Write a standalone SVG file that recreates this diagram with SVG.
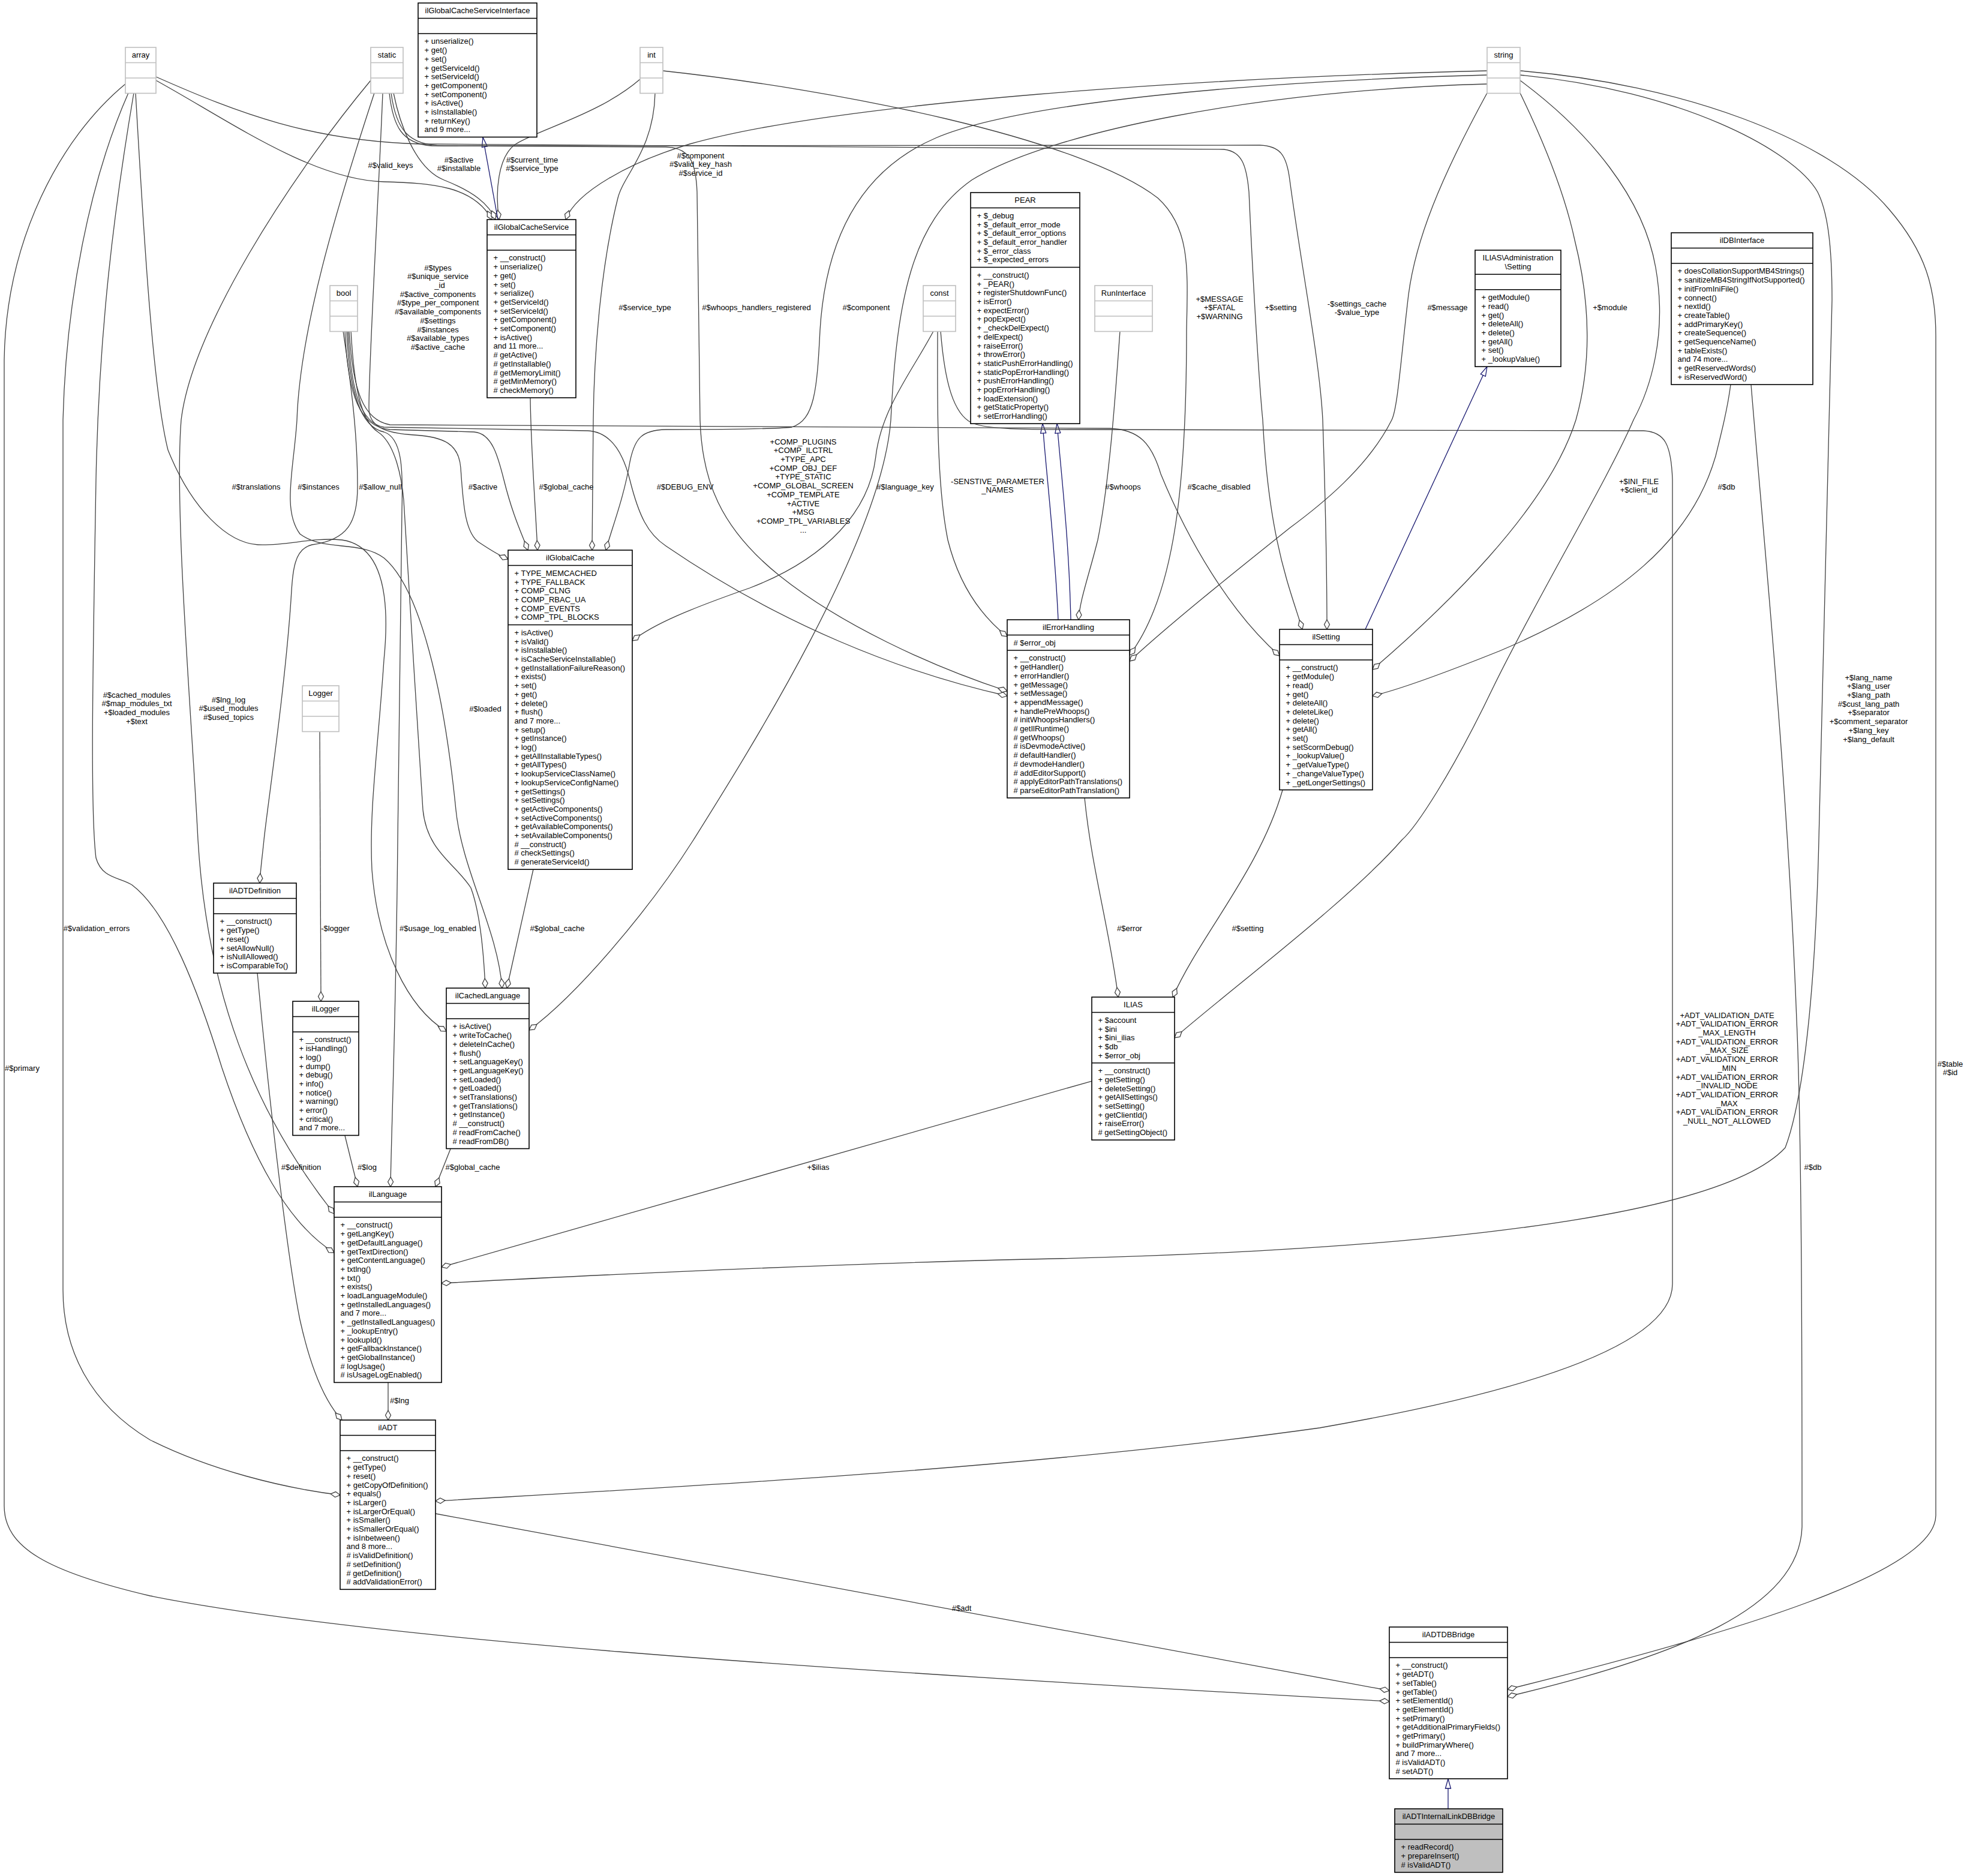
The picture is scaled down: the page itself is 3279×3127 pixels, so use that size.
<svg xmlns="http://www.w3.org/2000/svg" width="3279" height="3127" viewBox="0 0 3279 3127">
<style>
text{font-family:"Liberation Sans",Arial,Helvetica,sans-serif;font-size:13px;fill:#000}
.c{text-anchor:middle}
.n rect{fill:#fff;stroke:#000;stroke-width:1.6}
.n path{fill:none;stroke:#000;stroke-width:1.6}
.g rect{fill:#bfbfbf}
.t rect{fill:#fff;stroke:#bfbfbf;stroke-width:1.6}
.t path{fill:none;stroke:#bfbfbf;stroke-width:1.6}
.e path{fill:none;stroke:#404040;stroke-width:1.3;marker-end:url(#dia)}
.i path{fill:none;stroke:#191970;stroke-width:1.3;marker-end:url(#tri)}
</style>
<defs>
<marker id="dia" markerUnits="userSpaceOnUse" markerWidth="18" markerHeight="12" viewBox="0 0 18 12" refX="17" refY="6" orient="auto"><path d="M1,6 L9,1.5 L17,6 L9,10.5 Z" fill="#fff" stroke="#404040" stroke-width="1.3"/></marker>
<marker id="tri" markerUnits="userSpaceOnUse" markerWidth="18" markerHeight="12" viewBox="0 0 18 12" refX="17" refY="6" orient="auto"><path d="M1,1.5 L17,6 L1,10.5 Z" fill="#fff" stroke="#191970" stroke-width="1.3"/></marker>
</defs>
<rect x="0" y="0" width="3279" height="3127" fill="#fff"/>
<g id="connectors">
<g class="e"><path d="M260,134 C380,200 520,300 640,303 C720,305 790,310 820,366"/><text class="c" x="651" y="279.6">#$valid_keys</text></g>
<g class="e"><path d="M656,155 C665,200 690,280 740,300 C790,320 815,340 826,366"/><text class="c" x="765" y="270.6"><tspan x="765" dy="0">#$active</tspan><tspan x="765" dy="14.7">#$installable</tspan></text></g>
<g class="e"><path d="M1067,132 C1000,190 900,215 860,240 C830,260 825,320 832,366"/><text class="c" x="887" y="270.6"><tspan x="887" dy="0">#$current_time</tspan><tspan x="887" dy="14.7">#$service_type</tspan></text></g>
<g class="e"><path d="M2479,118 C2000,130 1400,170 1150,240 C1050,270 960,320 943,366"/><text class="c" x="1168" y="263.6"><tspan x="1168" dy="0">#$component</tspan><tspan x="1168" dy="14.7">#$valid_key_hash</tspan><tspan x="1168" dy="14.7">#$service_id</tspan></text></g>
<g class="i"><path d="M830,366 L805,229"/></g>
<g class="e"><path d="M649,155 C655,210 670,240 720,243 L1110,245 C1150,246 1160,270 1162,320 L1167,700 C1170,800 1200,880 1300,960 C1400,1040 1550,1110 1679,1152"/><text class="c" x="1261" y="516.6">#$whoops_handlers_registered</text></g>
<g class="e"><path d="M652,155 C660,215 680,243 740,243 L2100,242 C2135,243 2145,260 2150,300 C2170,450 2200,600 2205,700 C2210,850 2212,950 2212,1049"/><text class="c" x="2262" y="510.6"><tspan x="2262" dy="0">-$settings_cache</tspan><tspan x="2262" dy="14.7">-$value_type</tspan></text></g>
<g class="e"><path d="M260,128 C400,190 520,235 700,240 L2040,249 C2070,252 2078,275 2082,320 C2090,500 2100,650 2105,700 C2115,900 2150,980 2171,1049"/><text class="c" x="2135" y="516.6">+$setting</text></g>
<g class="e"><path d="M1105,118 C1400,150 1800,230 1930,330 C1985,380 1980,450 1978,550 C1978,800 1960,990 1883,1092"/><text class="c" x="2033" y="502.6"><tspan x="2033" dy="0">+$MESSAGE</tspan><tspan x="2033" dy="14.7">+$FATAL</tspan><tspan x="2033" dy="14.7">+$WARNING</tspan></text></g>
<g class="e"><path d="M2479,155 C2400,300 2360,400 2348,491 C2335,600 2330,680 2320,700 C2280,780 2200,843 2150,880 C2050,960 1950,1040 1883,1102"/><text class="c" x="2413" y="516.6">#$message</text></g>
<g class="i"><path d="M1764,1033 C1758,900 1745,800 1738,706"/><path d="M1785,1033 C1782,900 1770,800 1762,706"/></g>
<g class="e"><path d="M1563,552 C1563,650 1560,800 1580,900 C1600,980 1640,1030 1679,1061"/><text class="c" x="1663" y="806.6"><tspan x="1663" dy="0">-SENSTIVE_PARAMETER</tspan><tspan x="1663" dy="14.7">_NAMES</tspan></text></g>
<g class="e"><path d="M1867,552 C1860,650 1850,800 1830,900 C1815,960 1800,1000 1798,1033"/><text class="c" x="1872" y="815.6">#$whoops</text></g>
<g class="e"><path d="M580,552 C585,650 600,705 640,712 L980,718 C1020,720 1040,760 1050,800 C1065,860 1080,890 1110,910 C1300,1040 1500,1120 1679,1160"/><text class="c" x="1142" y="815.6">#$DEBUG_ENV</text></g>
<g class="e"><path d="M582,552 C588,650 605,700 650,708 L1850,714 C1900,716 1920,740 1935,790 C1980,900 2050,1020 2133,1093"/><text class="c" x="2032" y="815.6">#$cache_disabled</text></g>
<g class="e"><path d="M575,552 C580,660 600,712 650,716 L790,720 C820,722 830,760 840,800 C855,860 870,890 880,917"/><text class="c" x="805" y="815.6">#$active</text></g>
<g class="e"><path d="M884,663 C885,750 893,850 896,917"/><text class="c" x="944" y="815.6">#$global_cache</text></g>
<g class="e"><path d="M638,155 C630,350 615,600 615,680 C615,710 640,722 690,725 C740,728 765,740 768,780 C772,840 775,890 800,905 C815,915 830,925 847,932"/><text class="c" x="730" y="450.6"><tspan x="730" dy="0">#$types</tspan><tspan x="730" dy="14.7">#$unique_service</tspan><tspan x="733" dy="14.7">_id</tspan><tspan x="730" dy="14.7">#$active_components</tspan><tspan x="730" dy="14.7">#$type_per_component</tspan><tspan x="730" dy="14.7">#$available_components</tspan><tspan x="730" dy="14.7">#$settings</tspan><tspan x="730" dy="14.7">#$instances</tspan><tspan x="730" dy="14.7">#$available_types</tspan><tspan x="730" dy="14.7">#$active_cache</tspan></text></g>
<g class="e"><path d="M1092,155 C1090,250 1040,290 1030,330 C1000,450 990,600 989,700 C988,800 987,870 987,917"/><text class="c" x="1075" y="516.6">#$service_type</text></g>
<g class="e"><path d="M2479,125 C2100,135 1700,170 1560,230 C1420,290 1375,420 1367,550 C1362,650 1358,700 1320,712 C1280,716 1180,716 1110,716 C1070,717 1058,730 1050,770 C1040,830 1020,880 1010,917"/><text class="c" x="1444" y="516.6">#$component</text></g>
<g class="e"><path d="M1556,552 C1520,620 1470,680 1460,760 C1450,850 1380,930 1250,980 C1150,1015 1090,1040 1054,1068"/><text class="c" x="1339" y="740.6"><tspan x="1339" dy="0">+COMP_PLUGINS</tspan><tspan x="1339" dy="14.7">+COMP_ILCTRL</tspan><tspan x="1339" dy="14.7">+TYPE_APC</tspan><tspan x="1339" dy="14.7">+COMP_OBJ_DEF</tspan><tspan x="1339" dy="14.7">+TYPE_STATIC</tspan><tspan x="1339" dy="14.7">+COMP_GLOBAL_SCREEN</tspan><tspan x="1339" dy="14.7">+COMP_TEMPLATE</tspan><tspan x="1339" dy="14.7">+ACTIVE</tspan><tspan x="1339" dy="14.7">+MSG</tspan><tspan x="1339" dy="14.7">+COMP_TPL_VARIABLES</tspan><tspan x="1339" dy="14.7">...</tspan></text></g>
<g class="e"><path d="M2479,140 C2100,150 1750,220 1620,300 C1520,370 1495,500 1485,700 C1470,900 1250,1250 1156,1400 C1080,1520 960,1660 882,1717"/><text class="c" x="1509" y="815.6">#$language_key</text></g>
<g class="e"><path d="M585,552 C590,640 600,700 630,720 C660,740 670,800 673,834 C680,950 695,1200 705,1350 C712,1420 760,1440 785,1480 C800,1520 806,1580 809,1647"/><text class="c" x="809" y="1185.6">#$loaded</text></g>
<g class="e"><path d="M624,155 C560,350 500,550 495,700 C490,780 470,850 500,890 C540,920 600,900 640,930 C700,980 740,1150 760,1350 C770,1450 830,1550 837,1647"/><text class="c" x="531" y="815.6">#$instances</text></g>
<g class="e"><path d="M226,155 C240,400 255,650 280,750 C320,850 380,905 430,908 C480,910 520,895 570,900 C640,910 650,1000 640,1100 C630,1250 615,1350 620,1450 C630,1580 680,1680 744,1719"/><text class="c" x="427" y="815.6">#$translations</text></g>
<g class="e"><path d="M572,552 C585,640 596,720 596,811 C596,870 580,900 520,908 C490,915 488,950 485,1000 C475,1150 445,1350 440,1400 C437,1430 434,1450 433,1472"/><text class="c" x="634" y="815.6">#$allow_null</text></g>
<g class="e"><path d="M618,134 C480,300 320,550 302,700 C290,850 320,1200 330,1400 C345,1650 420,1850 557,2023"/><text class="c" x="381" y="1170.6"><tspan x="381" dy="0">#$lng_log</tspan><tspan x="381" dy="14.7">#$used_modules</tspan><tspan x="381" dy="14.7">#$used_topics</tspan></text></g>
<g class="e"><path d="M223,155 C190,350 165,550 160,800 C155,1100 150,1350 160,1430 C170,1465 200,1462 220,1475 C280,1520 330,1650 370,1780 C420,1930 480,2040 557,2088"/><text class="c" x="228" y="1162.6"><tspan x="228" dy="0">#$cached_modules</tspan><tspan x="228" dy="14.7">#$map_modules_txt</tspan><tspan x="228" dy="14.7">+$loaded_modules</tspan><tspan x="228" dy="14.7">+$text</tspan></text></g>
<g class="e"><path d="M214,155 C150,300 110,500 105,700 L105,2150 C105,2250 150,2340 250,2400 C350,2450 470,2480 567,2492"/><text class="c" x="161" y="1551.6">#$validation_errors</text></g>
<g class="e"><path d="M209,140 C100,230 10,400 7,600 L7,2510 C7,2580 80,2620 250,2660 C600,2730 1300,2780 2316,2836"/><text class="c" x="37" y="1784.6">#$primary</text></g>
<g class="e"><path d="M533,1220 L535,1669"/><text class="c" x="559" y="1551.6">-$logger</text></g>
<g class="e"><path d="M575,1893 L596,1978"/><text class="c" x="612" y="1949.6">#$log</text></g>
<g class="e"><path d="M578,552 C582,650 600,712 640,720 C670,730 672,780 670,850 L663,1400 C660,1700 652,1900 651,1978"/><text class="c" x="730" y="1551.6">#$usage_log_enabled</text></g>
<g class="e"><path d="M751,1915 L726,1978"/><text class="c" x="788" y="1949.6">#$global_cache</text></g>
<g class="e"><path d="M889,1449 L845,1647"/><text class="c" x="929" y="1551.6">#$global_cache</text></g>
<g class="e"><path d="M1820,1802 L736,2112"/><text class="c" x="1364" y="1949.6">+$ilias</text></g>
<g class="e"><path d="M2534,125 C2800,150 2990,250 3030,320 C3045,350 3054,400 3054,500 L3032,1400 C3025,1700 3000,1850 2976,1913 C2850,2050 2200,2090 1670,2100 C1300,2110 900,2130 736,2139"/><text class="c" x="3115" y="1133.6"><tspan x="3115" dy="0">+$lang_name</tspan><tspan x="3115" dy="14.7">+$lang_user</tspan><tspan x="3115" dy="14.7">+$lang_path</tspan><tspan x="3115" dy="14.7">#$cust_lang_path</tspan><tspan x="3115" dy="14.7">+$separator</tspan><tspan x="3115" dy="14.7">+$comment_separator</tspan><tspan x="3115" dy="14.7">+$lang_key</tspan><tspan x="3115" dy="14.7">+$lang_default</tspan></text></g>
<g class="e"><path d="M1808,1330 C1820,1450 1850,1550 1864,1662"/><text class="c" x="1883" y="1551.6">#$error</text></g>
<g class="e"><path d="M2138,1317 C2100,1450 2000,1560 1955,1662"/><text class="c" x="2080" y="1551.6">#$setting</text></g>
<g class="e"><path d="M2534,134 C2650,220 2740,330 2760,446 C2780,560 2750,650 2723,700 C2680,800 2560,1000 2489,1146 C2420,1290 2360,1380 2337,1400 C2250,1500 2050,1650 1958,1730"/><text class="c" x="2732" y="806.6"><tspan x="2732" dy="0">+$INI_FILE</tspan><tspan x="2732" dy="14.7">+$client_id</tspan></text></g>
<g class="e"><path d="M2534,155 C2580,250 2610,330 2625,400 C2650,500 2655,600 2627,700 C2580,850 2400,1020 2288,1116"/><text class="c" x="2684" y="516.6">+$module</text></g>
<g class="e"><path d="M2885,641 C2880,680 2870,720 2860,760 C2820,900 2700,1000 2500,1085 C2400,1125 2330,1150 2288,1160"/><text class="c" x="2878" y="815.6">#$db</text></g>
<g class="e"><path d="M2919,641 C2940,900 2980,1300 2995,1700 C3004,1900 3004,2300 3004,2545 C3000,2680 2800,2760 2513,2828"/><text class="c" x="3022" y="1949.6">#$db</text></g>
<g class="e"><path d="M2534,118 C2800,140 3050,230 3150,350 C3210,420 3227,480 3227,560 L3227,2526 C3227,2620 2900,2720 2513,2816"/><text class="c" x="3251" y="1777.6"><tspan x="3251" dy="0">#$table</tspan><tspan x="3251" dy="14.7">#$id</tspan></text></g>
<g class="e"><path d="M1568,552 C1575,640 1590,690 1620,705 C1650,716 1700,716 1800,716 L2740,718 C2775,720 2786,740 2788,800 L2788,2140 C2788,2230 2600,2310 2200,2380 C1700,2450 1100,2480 726,2502"/><text class="c" x="2879" y="1696.6"><tspan x="2879" dy="0">+ADT_VALIDATION_DATE</tspan><tspan x="2879" dy="14.7">+ADT_VALIDATION_ERROR</tspan><tspan x="2879" dy="14.7">_MAX_LENGTH</tspan><tspan x="2879" dy="14.7">+ADT_VALIDATION_ERROR</tspan><tspan x="2879" dy="14.7">_MAX_SIZE</tspan><tspan x="2879" dy="14.7">+ADT_VALIDATION_ERROR</tspan><tspan x="2879" dy="14.7">_MIN</tspan><tspan x="2879" dy="14.7">+ADT_VALIDATION_ERROR</tspan><tspan x="2879" dy="14.7">_INVALID_NODE</tspan><tspan x="2879" dy="14.7">+ADT_VALIDATION_ERROR</tspan><tspan x="2879" dy="14.7">_MAX</tspan><tspan x="2879" dy="14.7">+ADT_VALIDATION_ERROR</tspan><tspan x="2879" dy="14.7">_NULL_NOT_ALLOWED</tspan></text></g>
<g class="e"><path d="M647,2305 L647,2367"/><text class="c" x="666" y="2338.6">#$lng</text></g>
<g class="e"><path d="M429,1622 C450,1850 480,2100 500,2200 C520,2290 545,2340 570,2367"/><text class="c" x="502" y="1949.6">#$definition</text></g>
<g class="e"><path d="M726,2523 L2316,2818"/><text class="c" x="1603" y="2684.6">#$adt</text></g>
<g class="i"><path d="M2414,3015 L2414,2965"/></g>
<g class="i"><path d="M2276,1049 L2479,611"/></g>
</g>
<g id="array" class="t"><rect x="209" y="79" width="51" height="76.5"/><path d="M209,104.5h51M209,130h51"/><text class="c" x="234.5" y="96.4">array</text></g>
<g id="static" class="t"><rect x="618" y="79" width="54" height="76.5"/><path d="M618,104.5h54M618,130h54"/><text class="c" x="645" y="96.4">static</text></g>
<g id="int" class="t"><rect x="1067" y="79" width="38" height="76.5"/><path d="M1067,104.5h38M1067,130h38"/><text class="c" x="1086" y="96.4">int</text></g>
<g id="string" class="t"><rect x="2479" y="79" width="55" height="76.5"/><path d="M2479,104.5h55M2479,130h55"/><text class="c" x="2506.5" y="96.4">string</text></g>
<g id="bool" class="t"><rect x="550" y="476" width="46" height="76.5"/><path d="M550,501.5h46M550,527h46"/><text class="c" x="573" y="493.4">bool</text></g>
<g id="const" class="t"><rect x="1539" y="476" width="54" height="76.5"/><path d="M1539,501.5h54M1539,527h54"/><text class="c" x="1566" y="493.4">const</text></g>
<g id="RunInterface" class="t"><rect x="1825" y="476" width="96" height="76.5"/><path d="M1825,501.5h96M1825,527h96"/><text class="c" x="1873" y="493.4">RunInterface</text></g>
<g id="Logger" class="t"><rect x="504" y="1143" width="61" height="76.5"/><path d="M504,1168.5h61M504,1194h61"/><text class="c" x="534.5" y="1160.4">Logger</text></g>
<g id="ilGlobalCacheServiceInterface" class="n"><rect x="697" y="5" width="198" height="223.5"/><path d="M697,30.5h198M697,56h198"/><text class="c" x="796" y="22.4">ilGlobalCacheServiceInterface</text><text x="707.5" y="73.4"><tspan x="707.5" dy="0">+ unserialize()</tspan><tspan x="707.5" dy="14.7">+ get()</tspan><tspan x="707.5" dy="14.7">+ set()</tspan><tspan x="707.5" dy="14.7">+ getServiceId()</tspan><tspan x="707.5" dy="14.7">+ setServiceId()</tspan><tspan x="707.5" dy="14.7">+ getComponent()</tspan><tspan x="707.5" dy="14.7">+ setComponent()</tspan><tspan x="707.5" dy="14.7">+ isActive()</tspan><tspan x="707.5" dy="14.7">+ isInstallable()</tspan><tspan x="707.5" dy="14.7">+ returnKey()</tspan><tspan x="707.5" dy="14.7">and 9 more...</tspan></text></g>
<g id="ilGlobalCacheService" class="n"><rect x="812" y="366" width="148" height="297"/><path d="M812,391.5h148M812,417h148"/><text class="c" x="886" y="383.4">ilGlobalCacheService</text><text x="822.5" y="434.4"><tspan x="822.5" dy="0">+ __construct()</tspan><tspan x="822.5" dy="14.7">+ unserialize()</tspan><tspan x="822.5" dy="14.7">+ get()</tspan><tspan x="822.5" dy="14.7">+ set()</tspan><tspan x="822.5" dy="14.7">+ serialize()</tspan><tspan x="822.5" dy="14.7">+ getServiceId()</tspan><tspan x="822.5" dy="14.7">+ setServiceId()</tspan><tspan x="822.5" dy="14.7">+ getComponent()</tspan><tspan x="822.5" dy="14.7">+ setComponent()</tspan><tspan x="822.5" dy="14.7">+ isActive()</tspan><tspan x="822.5" dy="14.7">and 11 more...</tspan><tspan x="822.5" dy="14.7"># getActive()</tspan><tspan x="822.5" dy="14.7"># getInstallable()</tspan><tspan x="822.5" dy="14.7"># getMemoryLimit()</tspan><tspan x="822.5" dy="14.7"># getMinMemory()</tspan><tspan x="822.5" dy="14.7"># checkMemory()</tspan></text></g>
<g id="PEAR" class="n"><rect x="1618" y="321" width="182" height="385.2"/><path d="M1618,346.5h182M1618,445.5h182"/><text class="c" x="1709" y="338.4">PEAR</text><text x="1628.5" y="363.9"><tspan x="1628.5" dy="0">+ $_debug</tspan><tspan x="1628.5" dy="14.7">+ $_default_error_mode</tspan><tspan x="1628.5" dy="14.7">+ $_default_error_options</tspan><tspan x="1628.5" dy="14.7">+ $_default_error_handler</tspan><tspan x="1628.5" dy="14.7">+ $_error_class</tspan><tspan x="1628.5" dy="14.7">+ $_expected_errors</tspan></text><text x="1628.5" y="462.9"><tspan x="1628.5" dy="0">+ __construct()</tspan><tspan x="1628.5" dy="14.7">+ _PEAR()</tspan><tspan x="1628.5" dy="14.7">+ registerShutdownFunc()</tspan><tspan x="1628.5" dy="14.7">+ isError()</tspan><tspan x="1628.5" dy="14.7">+ expectError()</tspan><tspan x="1628.5" dy="14.7">+ popExpect()</tspan><tspan x="1628.5" dy="14.7">+ _checkDelExpect()</tspan><tspan x="1628.5" dy="14.7">+ delExpect()</tspan><tspan x="1628.5" dy="14.7">+ raiseError()</tspan><tspan x="1628.5" dy="14.7">+ throwError()</tspan><tspan x="1628.5" dy="14.7">+ staticPushErrorHandling()</tspan><tspan x="1628.5" dy="14.7">+ staticPopErrorHandling()</tspan><tspan x="1628.5" dy="14.7">+ pushErrorHandling()</tspan><tspan x="1628.5" dy="14.7">+ popErrorHandling()</tspan><tspan x="1628.5" dy="14.7">+ loadExtension()</tspan><tspan x="1628.5" dy="14.7">+ getStaticProperty()</tspan><tspan x="1628.5" dy="14.7">+ setErrorHandling()</tspan></text></g>
<g id="ILIAS_Administration_Setting" class="n"><rect x="2459" y="417" width="143" height="194.1"/><path d="M2459,457.2h143M2459,482.7h143"/><text class="c" x="2530.5" y="434.4"><tspan x="2530.5" dy="0">ILIAS\Administration</tspan><tspan x="2530.5" dy="14.7">\Setting</tspan></text><text x="2469.5" y="500.1"><tspan x="2469.5" dy="0">+ getModule()</tspan><tspan x="2469.5" dy="14.7">+ read()</tspan><tspan x="2469.5" dy="14.7">+ get()</tspan><tspan x="2469.5" dy="14.7">+ deleteAll()</tspan><tspan x="2469.5" dy="14.7">+ delete()</tspan><tspan x="2469.5" dy="14.7">+ getAll()</tspan><tspan x="2469.5" dy="14.7">+ set()</tspan><tspan x="2469.5" dy="14.7">+ _lookupValue()</tspan></text></g>
<g id="ilDBInterface" class="n"><rect x="2786" y="388" width="236" height="253"/><path d="M2786,413.5h236M2786,439h236"/><text class="c" x="2904" y="405.4">ilDBInterface</text><text x="2796.5" y="456.4"><tspan x="2796.5" dy="0">+ doesCollationSupportMB4Strings()</tspan><tspan x="2796.5" dy="14.7">+ sanitizeMB4StringIfNotSupported()</tspan><tspan x="2796.5" dy="14.7">+ initFromIniFile()</tspan><tspan x="2796.5" dy="14.7">+ connect()</tspan><tspan x="2796.5" dy="14.7">+ nextId()</tspan><tspan x="2796.5" dy="14.7">+ createTable()</tspan><tspan x="2796.5" dy="14.7">+ addPrimaryKey()</tspan><tspan x="2796.5" dy="14.7">+ createSequence()</tspan><tspan x="2796.5" dy="14.7">+ getSequenceName()</tspan><tspan x="2796.5" dy="14.7">+ tableExists()</tspan><tspan x="2796.5" dy="14.7">and 74 more...</tspan><tspan x="2796.5" dy="14.7">+ getReservedWords()</tspan><tspan x="2796.5" dy="14.7">+ isReservedWord()</tspan></text></g>
<g id="ilGlobalCache" class="n"><rect x="847" y="917" width="207" height="532.2"/><path d="M847,942.5h207M847,1041.5h207"/><text class="c" x="950.5" y="934.4">ilGlobalCache</text><text x="857.5" y="959.9"><tspan x="857.5" dy="0">+ TYPE_MEMCACHED</tspan><tspan x="857.5" dy="14.7">+ TYPE_FALLBACK</tspan><tspan x="857.5" dy="14.7">+ COMP_CLNG</tspan><tspan x="857.5" dy="14.7">+ COMP_RBAC_UA</tspan><tspan x="857.5" dy="14.7">+ COMP_EVENTS</tspan><tspan x="857.5" dy="14.7">+ COMP_TPL_BLOCKS</tspan></text><text x="857.5" y="1058.9"><tspan x="857.5" dy="0">+ isActive()</tspan><tspan x="857.5" dy="14.7">+ isValid()</tspan><tspan x="857.5" dy="14.7">+ isInstallable()</tspan><tspan x="857.5" dy="14.7">+ isCacheServiceInstallable()</tspan><tspan x="857.5" dy="14.7">+ getInstallationFailureReason()</tspan><tspan x="857.5" dy="14.7">+ exists()</tspan><tspan x="857.5" dy="14.7">+ set()</tspan><tspan x="857.5" dy="14.7">+ get()</tspan><tspan x="857.5" dy="14.7">+ delete()</tspan><tspan x="857.5" dy="14.7">+ flush()</tspan><tspan x="857.5" dy="14.7">and 7 more...</tspan><tspan x="857.5" dy="14.7">+ setup()</tspan><tspan x="857.5" dy="14.7">+ getInstance()</tspan><tspan x="857.5" dy="14.7">+ log()</tspan><tspan x="857.5" dy="14.7">+ getAllInstallableTypes()</tspan><tspan x="857.5" dy="14.7">+ getAllTypes()</tspan><tspan x="857.5" dy="14.7">+ lookupServiceClassName()</tspan><tspan x="857.5" dy="14.7">+ lookupServiceConfigName()</tspan><tspan x="857.5" dy="14.7">+ getSettings()</tspan><tspan x="857.5" dy="14.7">+ setSettings()</tspan><tspan x="857.5" dy="14.7">+ getActiveComponents()</tspan><tspan x="857.5" dy="14.7">+ setActiveComponents()</tspan><tspan x="857.5" dy="14.7">+ getAvailableComponents()</tspan><tspan x="857.5" dy="14.7">+ setAvailableComponents()</tspan><tspan x="857.5" dy="14.7"># __construct()</tspan><tspan x="857.5" dy="14.7"># checkSettings()</tspan><tspan x="857.5" dy="14.7"># generateServiceId()</tspan></text></g>
<g id="ilErrorHandling" class="n"><rect x="1679" y="1033" width="204" height="297"/><path d="M1679,1058.5h204M1679,1084h204"/><text class="c" x="1781" y="1050.4">ilErrorHandling</text><text x="1689.5" y="1075.9"># $error_obj</text><text x="1689.5" y="1101.4"><tspan x="1689.5" dy="0">+ __construct()</tspan><tspan x="1689.5" dy="14.7">+ getHandler()</tspan><tspan x="1689.5" dy="14.7">+ errorHandler()</tspan><tspan x="1689.5" dy="14.7">+ getMessage()</tspan><tspan x="1689.5" dy="14.7">+ setMessage()</tspan><tspan x="1689.5" dy="14.7">+ appendMessage()</tspan><tspan x="1689.5" dy="14.7">+ handlePreWhoops()</tspan><tspan x="1689.5" dy="14.7"># initWhoopsHandlers()</tspan><tspan x="1689.5" dy="14.7"># getIlRuntime()</tspan><tspan x="1689.5" dy="14.7"># getWhoops()</tspan><tspan x="1689.5" dy="14.7"># isDevmodeActive()</tspan><tspan x="1689.5" dy="14.7"># defaultHandler()</tspan><tspan x="1689.5" dy="14.7"># devmodeHandler()</tspan><tspan x="1689.5" dy="14.7"># addEditorSupport()</tspan><tspan x="1689.5" dy="14.7"># applyEditorPathTranslations()</tspan><tspan x="1689.5" dy="14.7"># parseEditorPathTranslation()</tspan></text></g>
<g id="ilSetting" class="n"><rect x="2133" y="1049" width="155" height="267.6"/><path d="M2133,1074.5h155M2133,1100h155"/><text class="c" x="2210.5" y="1066.4">ilSetting</text><text x="2143.5" y="1117.4"><tspan x="2143.5" dy="0">+ __construct()</tspan><tspan x="2143.5" dy="14.7">+ getModule()</tspan><tspan x="2143.5" dy="14.7">+ read()</tspan><tspan x="2143.5" dy="14.7">+ get()</tspan><tspan x="2143.5" dy="14.7">+ deleteAll()</tspan><tspan x="2143.5" dy="14.7">+ deleteLike()</tspan><tspan x="2143.5" dy="14.7">+ delete()</tspan><tspan x="2143.5" dy="14.7">+ getAll()</tspan><tspan x="2143.5" dy="14.7">+ set()</tspan><tspan x="2143.5" dy="14.7">+ setScormDebug()</tspan><tspan x="2143.5" dy="14.7">+ _lookupValue()</tspan><tspan x="2143.5" dy="14.7">+ _getValueType()</tspan><tspan x="2143.5" dy="14.7">+ _changeValueType()</tspan><tspan x="2143.5" dy="14.7">+ _getLongerSettings()</tspan></text></g>
<g id="ilADTDefinition" class="n"><rect x="356" y="1472" width="138" height="150"/><path d="M356,1497.5h138M356,1523h138"/><text class="c" x="425" y="1489.4">ilADTDefinition</text><text x="366.5" y="1540.4"><tspan x="366.5" dy="0">+ __construct()</tspan><tspan x="366.5" dy="14.7">+ getType()</tspan><tspan x="366.5" dy="14.7">+ reset()</tspan><tspan x="366.5" dy="14.7">+ setAllowNull()</tspan><tspan x="366.5" dy="14.7">+ isNullAllowed()</tspan><tspan x="366.5" dy="14.7">+ isComparableTo()</tspan></text></g>
<g id="ilLogger" class="n"><rect x="488" y="1669" width="110" height="223.5"/><path d="M488,1694.5h110M488,1720h110"/><text class="c" x="543" y="1686.4">ilLogger</text><text x="498.5" y="1737.4"><tspan x="498.5" dy="0">+ __construct()</tspan><tspan x="498.5" dy="14.7">+ isHandling()</tspan><tspan x="498.5" dy="14.7">+ log()</tspan><tspan x="498.5" dy="14.7">+ dump()</tspan><tspan x="498.5" dy="14.7">+ debug()</tspan><tspan x="498.5" dy="14.7">+ info()</tspan><tspan x="498.5" dy="14.7">+ notice()</tspan><tspan x="498.5" dy="14.7">+ warning()</tspan><tspan x="498.5" dy="14.7">+ error()</tspan><tspan x="498.5" dy="14.7">+ critical()</tspan><tspan x="498.5" dy="14.7">and 7 more...</tspan></text></g>
<g id="ilCachedLanguage" class="n"><rect x="744" y="1647" width="138" height="267.6"/><path d="M744,1672.5h138M744,1698h138"/><text class="c" x="813" y="1664.4">ilCachedLanguage</text><text x="754.5" y="1715.4"><tspan x="754.5" dy="0">+ isActive()</tspan><tspan x="754.5" dy="14.7">+ writeToCache()</tspan><tspan x="754.5" dy="14.7">+ deleteInCache()</tspan><tspan x="754.5" dy="14.7">+ flush()</tspan><tspan x="754.5" dy="14.7">+ setLanguageKey()</tspan><tspan x="754.5" dy="14.7">+ getLanguageKey()</tspan><tspan x="754.5" dy="14.7">+ setLoaded()</tspan><tspan x="754.5" dy="14.7">+ getLoaded()</tspan><tspan x="754.5" dy="14.7">+ setTranslations()</tspan><tspan x="754.5" dy="14.7">+ getTranslations()</tspan><tspan x="754.5" dy="14.7">+ getInstance()</tspan><tspan x="754.5" dy="14.7"># __construct()</tspan><tspan x="754.5" dy="14.7"># readFromCache()</tspan><tspan x="754.5" dy="14.7"># readFromDB()</tspan></text></g>
<g id="ILIAS" class="n"><rect x="1820" y="1662" width="138" height="238.2"/><path d="M1820,1687.5h138M1820,1771.8h138"/><text class="c" x="1889" y="1679.4">ILIAS</text><text x="1830.5" y="1704.9"><tspan x="1830.5" dy="0">+ $account</tspan><tspan x="1830.5" dy="14.7">+ $ini</tspan><tspan x="1830.5" dy="14.7">+ $ini_ilias</tspan><tspan x="1830.5" dy="14.7">+ $db</tspan><tspan x="1830.5" dy="14.7">+ $error_obj</tspan></text><text x="1830.5" y="1789.2"><tspan x="1830.5" dy="0">+ __construct()</tspan><tspan x="1830.5" dy="14.7">+ getSetting()</tspan><tspan x="1830.5" dy="14.7">+ deleteSetting()</tspan><tspan x="1830.5" dy="14.7">+ getAllSettings()</tspan><tspan x="1830.5" dy="14.7">+ setSetting()</tspan><tspan x="1830.5" dy="14.7">+ getClientId()</tspan><tspan x="1830.5" dy="14.7">+ raiseError()</tspan><tspan x="1830.5" dy="14.7"># getSettingObject()</tspan></text></g>
<g id="ilLanguage" class="n"><rect x="557" y="1978" width="179" height="326.4"/><path d="M557,2003.5h179M557,2029h179"/><text class="c" x="646.5" y="1995.4">ilLanguage</text><text x="567.5" y="2046.4"><tspan x="567.5" dy="0">+ __construct()</tspan><tspan x="567.5" dy="14.7">+ getLangKey()</tspan><tspan x="567.5" dy="14.7">+ getDefaultLanguage()</tspan><tspan x="567.5" dy="14.7">+ getTextDirection()</tspan><tspan x="567.5" dy="14.7">+ getContentLanguage()</tspan><tspan x="567.5" dy="14.7">+ txtlng()</tspan><tspan x="567.5" dy="14.7">+ txt()</tspan><tspan x="567.5" dy="14.7">+ exists()</tspan><tspan x="567.5" dy="14.7">+ loadLanguageModule()</tspan><tspan x="567.5" dy="14.7">+ getInstalledLanguages()</tspan><tspan x="567.5" dy="14.7">and 7 more...</tspan><tspan x="567.5" dy="14.7">+ _getInstalledLanguages()</tspan><tspan x="567.5" dy="14.7">+ _lookupEntry()</tspan><tspan x="567.5" dy="14.7">+ lookupId()</tspan><tspan x="567.5" dy="14.7">+ getFallbackInstance()</tspan><tspan x="567.5" dy="14.7">+ getGlobalInstance()</tspan><tspan x="567.5" dy="14.7"># logUsage()</tspan><tspan x="567.5" dy="14.7"># isUsageLogEnabled()</tspan></text></g>
<g id="ilADT" class="n"><rect x="567" y="2367" width="159" height="282.3"/><path d="M567,2392.5h159M567,2418h159"/><text class="c" x="646.5" y="2384.4">ilADT</text><text x="577.5" y="2435.4"><tspan x="577.5" dy="0">+ __construct()</tspan><tspan x="577.5" dy="14.7">+ getType()</tspan><tspan x="577.5" dy="14.7">+ reset()</tspan><tspan x="577.5" dy="14.7">+ getCopyOfDefinition()</tspan><tspan x="577.5" dy="14.7">+ equals()</tspan><tspan x="577.5" dy="14.7">+ isLarger()</tspan><tspan x="577.5" dy="14.7">+ isLargerOrEqual()</tspan><tspan x="577.5" dy="14.7">+ isSmaller()</tspan><tspan x="577.5" dy="14.7">+ isSmallerOrEqual()</tspan><tspan x="577.5" dy="14.7">+ isInbetween()</tspan><tspan x="577.5" dy="14.7">and 8 more...</tspan><tspan x="577.5" dy="14.7"># isValidDefinition()</tspan><tspan x="577.5" dy="14.7"># setDefinition()</tspan><tspan x="577.5" dy="14.7"># getDefinition()</tspan><tspan x="577.5" dy="14.7"># addValidationError()</tspan></text></g>
<g id="ilADTDBBridge" class="n"><rect x="2316" y="2712" width="197" height="252.9"/><path d="M2316,2737.5h197M2316,2763h197"/><text class="c" x="2414.5" y="2729.4">ilADTDBBridge</text><text x="2326.5" y="2780.4"><tspan x="2326.5" dy="0">+ __construct()</tspan><tspan x="2326.5" dy="14.7">+ getADT()</tspan><tspan x="2326.5" dy="14.7">+ setTable()</tspan><tspan x="2326.5" dy="14.7">+ getTable()</tspan><tspan x="2326.5" dy="14.7">+ setElementId()</tspan><tspan x="2326.5" dy="14.7">+ getElementId()</tspan><tspan x="2326.5" dy="14.7">+ setPrimary()</tspan><tspan x="2326.5" dy="14.7">+ getAdditionalPrimaryFields()</tspan><tspan x="2326.5" dy="14.7">+ getPrimary()</tspan><tspan x="2326.5" dy="14.7">+ buildPrimaryWhere()</tspan><tspan x="2326.5" dy="14.7">and 7 more...</tspan><tspan x="2326.5" dy="14.7"># isValidADT()</tspan><tspan x="2326.5" dy="14.7"># setADT()</tspan></text></g>
<g id="ilADTInternalLinkDBBridge" class="n g"><rect x="2325" y="3015" width="180" height="105.9"/><path d="M2325,3040.5h180M2325,3066h180"/><text class="c" x="2415" y="3032.4">ilADTInternalLinkDBBridge</text><text x="2335.5" y="3083.4"><tspan x="2335.5" dy="0">+ readRecord()</tspan><tspan x="2335.5" dy="14.7">+ prepareInsert()</tspan><tspan x="2335.5" dy="14.7"># isValidADT()</tspan></text></g>
</svg>
